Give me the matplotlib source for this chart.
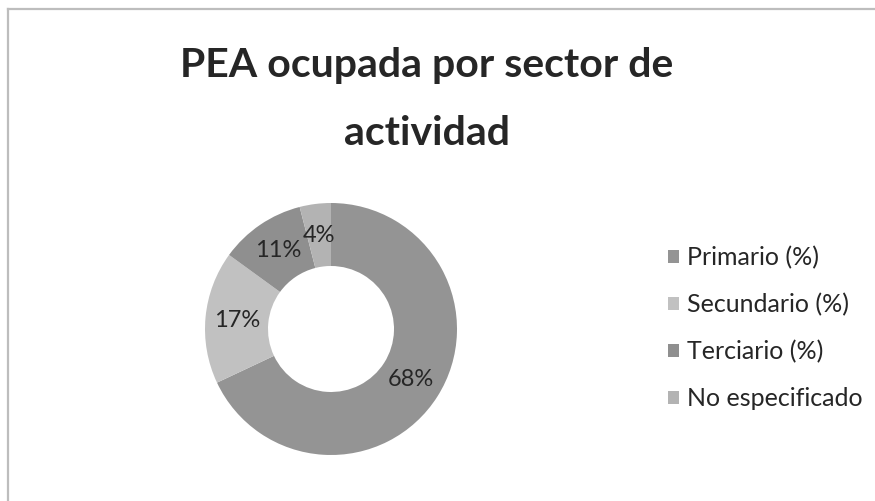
#!/usr/bin/env python3
"""Donut chart: PEA ocupada por sector de actividad."""

import matplotlib

matplotlib.use("Agg")
import matplotlib.pyplot as plt
from matplotlib.lines import Line2D

# data
sectors = ["Primario (%)", "Secundario (%)", "Terciario (%)", "No especificado"]
shares = [68, 17, 11, 4]
colors = ["#949494", "#c1c1c1", "#8f8f8f", "#b3b3b3"]
title_lines = ["PEA ocupada por sector de", "actividad"]

plt.rcParams["font.family"] = ["Lato", "DejaVu Sans"]
TEXT = "#262626"

W, H = 875, 501
fig = plt.figure(figsize=(W / 100, H / 100), dpi=100)

# chart area frame (only top and left edges show in the source)
fig.add_artist(Line2D([8 / W, 1], [1 - 9 / H, 1 - 9 / H], color="#bdbdbd", lw=1.6))
fig.add_artist(Line2D([8 / W, 8 / W], [0, 1 - 9 / H], color="#bdbdbd", lw=1.6))

# two title lines, placed on their baselines
for line, base in zip(title_lines, [77, 145]):
    fig.text(427 / W, 1 - base / H, line, ha="center", va="baseline",
             fontsize=29.5, fontweight="bold", color=TEXT)

cx, cy, r = 331, 329, 126
ax = fig.add_axes([(cx - r) / W, (H - cy - r) / H, 2 * r / W, 2 * r / H])
wedges, _, autotexts = ax.pie(
    shares,
    colors=colors,
    startangle=90,
    counterclock=False,
    autopct="%1.0f%%",
    pctdistance=0.75,
    wedgeprops=dict(width=0.5, linewidth=0),
    textprops=dict(fontsize=17, color=TEXT),
)
ax.set_xlim(-1, 1)
ax.set_ylim(-1, 1)
ax.set_aspect("equal")

fig.legend(
    wedges,
    sectors,
    loc="center left",
    bbox_to_anchor=(668 / W, 1 - 328 / H),
    borderaxespad=0,
    borderpad=0,
    frameon=False,
    fontsize=18,
    labelcolor=TEXT,
    handlelength=0.44,
    handleheight=0.44,
    handletextpad=0.32,
    labelspacing=0.95,
)

fig.savefig("out.png", dpi=100, facecolor="white")
